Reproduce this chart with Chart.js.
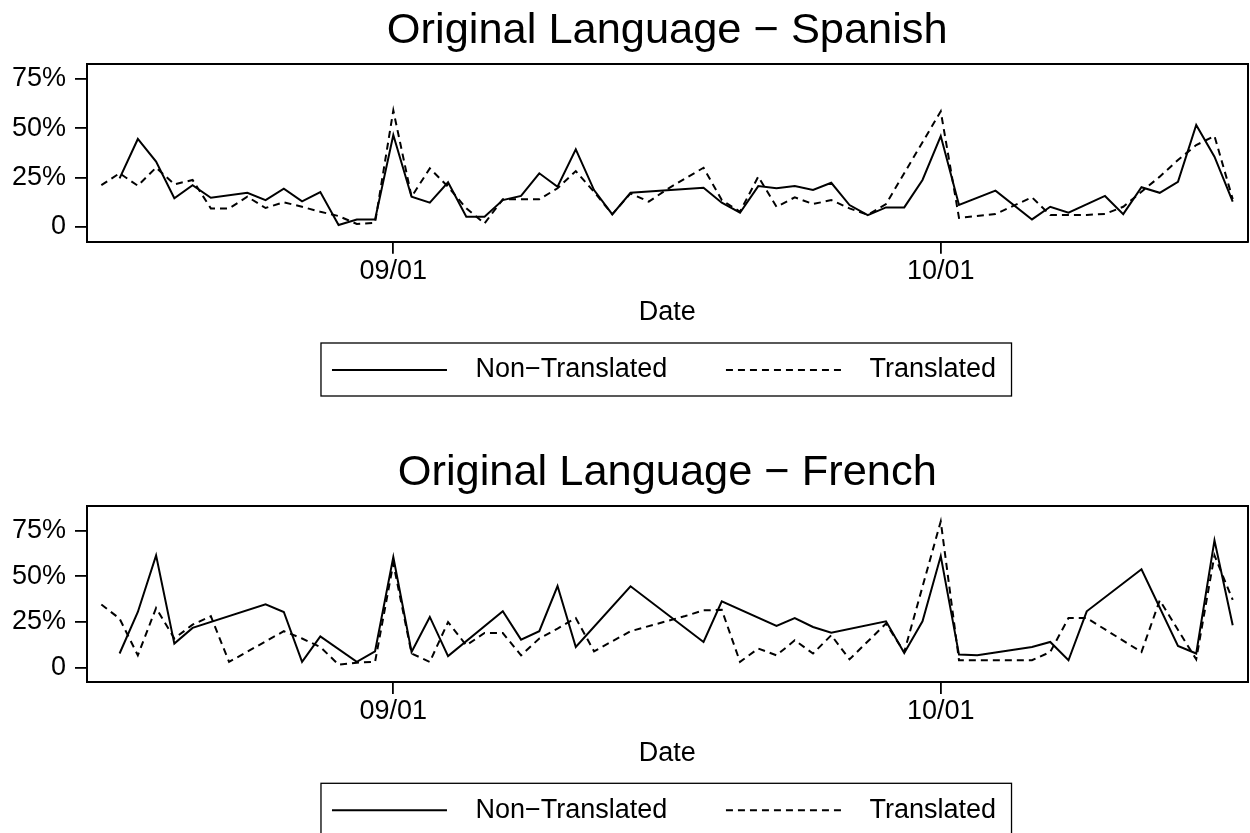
<!DOCTYPE html>
<html><head><meta charset="utf-8">
<script src="https://cdn.jsdelivr.net/npm/chart.js@4.4.1/dist/chart.umd.min.js"></script>
<style>
html,body{margin:0;padding:0;background:#fff;width:1250px;height:833px;overflow:hidden;position:relative;}
canvas{position:absolute;left:0;}
</style></head><body>
<canvas id="c1" width="1250" height="442" style="top:0px"></canvas>
<canvas id="c2" width="1250" height="442" style="top:442px"></canvas>
<script>
// ---- data (dates as MM/DD, values in %) ----
const seriesNames = ['Non\u2212Translated', 'Translated'];
const panelTitles = ['Original Language \u2212 Spanish', 'Original Language \u2212 French'];
const xAxisTitle = 'Date';
const xTickLabels = ['09/01', '10/01'];
const yTickValues = [0, 25, 50, 75];
const yTickLabels = ['0', '25%', '50%', '75%'];

const esNTDates = ['08/17','08/18','08/19','08/20','08/21','08/22','08/24','08/25','08/26','08/27','08/28','08/29','08/30','08/31',
  '09/01','09/02','09/03','09/04','09/05','09/06','09/07','09/08','09/09','09/10','09/11','09/12','09/13','09/14','09/18','09/19',
  '09/20','09/21','09/22','09/23','09/24','09/25','09/26','09/27','09/28','09/29','09/30','10/01','10/02','10/04','10/06','10/07',
  '10/08','10/10','10/11','10/12','10/13','10/14','10/15','10/16','10/17'];
const esNTVals = [24.5,44.5,33,14.4,21.1,14.7,17.2,13.5,19.3,12.9,17.6,0.9,3.7,3.7,
  46.5,15.2,12.2,22.5,5.1,5.1,13.5,15.6,27.1,20.3,39.2,18.6,6.3,17.2,19.8,12.2,
  7.1,20.6,19.5,20.6,18.6,22.3,11,5.9,9.8,9.8,23.7,46,11,18.3,3.7,10.1,
  7.1,15.6,6.4,20,17.2,22.8,51.6,35.5,12.7];

const esTDates = ['08/16','08/17','08/18','08/19','08/20','08/21','08/22','08/23','08/24','08/25','08/26','08/27','08/28','08/29','08/30','08/31',
  '09/01','09/02','09/03','09/04','09/05','09/06','09/07','09/08','09/09','09/10','09/11','09/12','09/13','09/14','09/15','09/16','09/17',
  '09/18','09/19','09/20','09/21','09/22','09/23','09/24','09/25','09/26','09/27','09/28','10/01','10/02','10/04','10/06','10/07',
  '10/08','10/09','10/10','10/11','10/12','10/13','10/14','10/15','10/16','10/17'];
const esTVals = [21.1,27.1,20.8,30,21.5,23.7,9.3,9.3,15.2,9.5,12.4,10.1,7.6,5.4,1.4,2,
  59,15.2,29.6,20.3,9.3,1.7,13.9,13.9,13.9,19.5,28.2,17.7,6.3,16.9,12.7,19,24.5,
  29.9,13.5,7.6,25.4,10.1,14.9,11.5,13.5,9.3,6,11.5,58.5,4.5,6.4,14.9,5.9,
  5.9,6,6.5,10.1,17.7,25.4,33.8,41.4,46,14];

const frNTDates = ['08/17','08/18','08/19','08/20','08/21','08/25','08/26','08/27','08/28','08/30','08/31',
  '09/01','09/02','09/03','09/04','09/07','09/08','09/09','09/10','09/11','09/14','09/18','09/19','09/22','09/23','09/24','09/25',
  '09/28','09/29','09/30','10/01','10/02','10/03','10/06','10/07','10/08','10/09','10/12','10/14','10/15','10/16','10/17'];
const frNTVals = [7.7,30.4,61.4,13.1,21.7,34.6,30.4,3.1,17.1,3.1,8.9,
  60.5,8.5,27.7,6.3,30.8,15.3,19.9,44.6,11.3,44.5,14,36.3,22.8,27.1,22.2,19.1,
  25.3,8,25.3,61,7.1,6.7,11.3,14,4,30.8,53.8,11.8,7.7,69.6,23.2];

const frTDates = ['08/16','08/17','08/18','08/19','08/20','08/21','08/22','08/23','08/26','08/27','08/28','08/29','08/30','08/31',
  '09/01','09/02','09/03','09/04','09/05','09/06','09/07','09/08','09/09','09/10','09/11','09/12','09/14','09/17','09/18','09/19',
  '09/20','09/21','09/22','09/23','09/24','09/25','09/26','09/28','09/29','10/01','10/02','10/06','10/07','10/08','10/09',
  '10/12','10/13','10/15','10/16','10/17'];
const frTVals = [34.5,26.8,6.7,32.6,15.9,23.5,28.1,3.1,19.9,15.9,11.3,1.6,2.7,3.1,
  57,7.7,3.1,24.9,12.2,18.9,18.9,6.7,15.9,21.3,27.1,8.9,19.9,28.2,31.3,31.6,
  3.1,10.4,6.7,14.9,7.7,17.7,4.5,24.1,8.5,80,4,4,8.5,27.1,27.1,
  8.5,36.8,4.5,61.4,37];

// ---- helpers ----
const dayNum = s => { const [m, d] = s.split('/').map(Number); return m === 8 ? d : (m === 9 ? 31 + d : 61 + d); };
const xTickValues = xTickLabels.map(dayNum);
const X_MIN = 15.214, X_MAX = 78.81;
const FS = 27;

Chart.defaults.font.family = "'Liberation Sans', Arial, Helvetica, sans-serif";
Chart.defaults.color = '#000';

// centre the legend row over the plot region (R centres it on the plot, not the device)
const legendShift = {
  id: 'legendShift',
  afterLayout(chart) { if (chart.legend) { chart.legend.left = 78; } }
};

const legendBox = {
  id: 'legendBox',
  afterDraw(chart) {
    const lg = chart.legend; if (!lg) return;
    const hb = lg.legendHitBoxes; if (!hb || !hb.length) return;
    const a = hb[0], b = hb[hb.length - 1];
    const l = a.left - 11, r = b.left + b.width + 15.5, t = a.top - 13.5, btm = a.top + 39.5;
    const ctx = chart.ctx;
    ctx.save(); ctx.setLineDash([]); ctx.strokeStyle = '#000'; ctx.lineWidth = 1.3;
    ctx.strokeRect(l, t, r - l, btm - t); ctx.restore();
  }
};

function makeChart(id, title, ntD, ntV, tD, tV, yMin, yMax, padBottom) {
  const pts = (ds, vs) => ds.map((d, i) => ({x: dayNum(d), y: vs[i]}));
  const dashes = [[], [7, 5]];
  return new Chart(document.getElementById(id), {
    type: 'line',
    data: { datasets: [
      {label: seriesNames[0], data: pts(ntD, ntV), borderColor: '#000', borderWidth: 2, borderDash: dashes[0], pointRadius: 0, tension: 0, fill: false},
      {label: seriesNames[1], data: pts(tD, tV), borderColor: '#000', borderWidth: 2, borderDash: dashes[1], pointRadius: 0, tension: 0, fill: false}
    ]},
    options: {
      responsive: false, animation: false, devicePixelRatio: 1,
      layout: {padding: {left: 0, right: 0, top: 0, bottom: padBottom}},
      plugins: {
        title: {display: false},
        tooltip: {enabled: false},
        legend: {
          display: true, position: 'bottom',
          labels: {
            usePointStyle: true, pointStyle: 'line', pointStyleWidth: 115,
            font: {size: FS}, color: '#000', padding: 13.6,
            generateLabels: (chart) => chart.data.datasets.map((ds, i) => ({
              text: i === 0 ? '  ' + ds.label + '      ' : '  ' + ds.label,
              fillStyle: '#000', strokeStyle: '#000', lineWidth: 2,
              lineDash: ds.borderDash, lineCap: 'butt', pointStyle: 'line',
              hidden: false, datasetIndex: i, fontColor: '#000'
            }))
          }
        }
      },
      scales: {
        x: {
          type: 'linear', position: 'bottom', min: X_MIN, max: X_MAX,
          afterBuildTicks: s => { s.ticks = xTickValues.map(v => ({value: v})); },
          ticks: {callback: v => xTickLabels[xTickValues.indexOf(v)], font: {size: FS}, color: '#000', padding: 1.6, maxRotation: 0, autoSkip: false},
          grid: {display: true, drawOnChartArea: false, drawTicks: true, tickLength: 12, color: '#000', lineWidth: 1.8},
          border: {display: true, color: '#000', width: 2},
          title: {display: true, text: xAxisTitle, font: {size: FS}, color: '#000', padding: {top: 7.5, bottom: 13.7}}
        },
        x2: {
          type: 'linear', position: 'top', min: X_MIN, max: X_MAX,
          ticks: {display: false},
          grid: {display: true, drawOnChartArea: false, drawTicks: false},
          border: {display: true, color: '#000', width: 2},
          title: {display: true, text: title, font: {size: 43.4}, color: '#000', padding: {top: 5.46, bottom: 6.5}}
        },
        y: {
          type: 'linear', position: 'left', min: yMin, max: yMax,
          afterBuildTicks: s => { s.ticks = yTickValues.map(v => ({value: v})); },
          afterFit: s => { s.width = 87; },
          ticks: {callback: v => yTickLabels[yTickValues.indexOf(v)], font: {size: FS}, color: '#000', padding: 9, autoSkip: false},
          grid: {display: true, drawOnChartArea: false, drawTicks: true, tickLength: 12, color: '#000', lineWidth: 1.8},
          border: {display: true, color: '#000', width: 2}
        },
        y2: {
          type: 'linear', position: 'right', min: yMin, max: yMax,
          afterFit: s => { s.width = 2.5; },
          ticks: {display: false},
          grid: {display: true, drawOnChartArea: false, drawTicks: false},
          border: {display: true, color: '#000', width: 2}
        }
      }
    },
    plugins: [legendShift, legendBox]
  });
}

makeChart('c1', panelTitles[0], esNTDates, esNTVals, esTDates, esTVals, -7.6, 82.5, 48.5);
makeChart('c2', panelTitles[1], frNTDates, frNTVals, frTDates, frTVals, -7.9, 88.4, 50.2);
</script></body></html>
